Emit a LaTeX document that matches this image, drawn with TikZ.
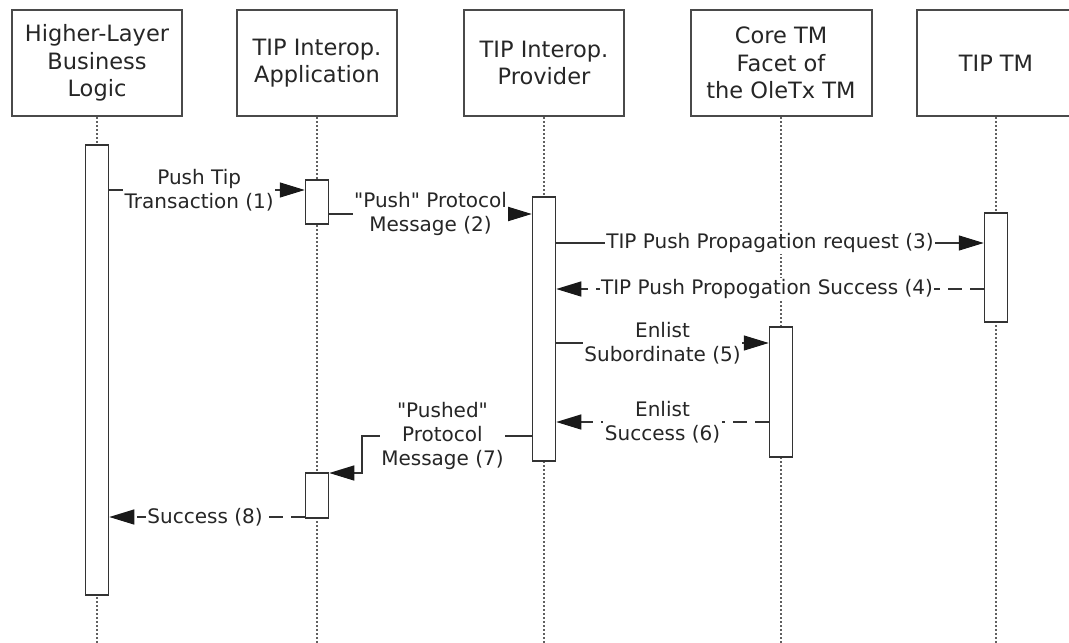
\documentclass[tikz,border=0pt]{standalone}
\usepackage{fontspec}
\setmainfont{DejaVu Sans}
\usetikzlibrary{arrows.meta}
\definecolor{ln}{HTML}{333333}
\definecolor{tx}{HTML}{262626}
\definecolor{bx}{HTML}{4A4A4A}
\definecolor{lf}{HTML}{606060}
\begin{document}
\begin{tikzpicture}[x=1pt,y=-1pt,
  head/.style={draw=bx, line width=2pt, fill=white, minimum height=106pt, inner sep=0pt,
               align=center, text=tx, font=\fontsize{22.5}{27.5}\selectfont},
  life/.style={draw=lf, line width=1.4pt, dash pattern=on 2pt off 2pt},
  act/.style={draw=ln, line width=1.5pt, fill=white, minimum width=23pt, inner sep=0pt},
  msg/.style={draw=ln, line width=1.3pt, -{Triangle[length=25pt,width=15pt,fill=black!90,color=black!90]}},
  ret/.style={msg, dash pattern=on 14pt off 8pt},
  lbl/.style={fill=white, inner sep=1.5pt, text=tx, align=center,
              font=\fontsize{20}{24}\selectfont},
]
\useasboundingbox (0,0) rectangle (1069,643);

% heads
\node[head, minimum width=170pt] (b1) at (97,63)  {Higher-Layer\\Business\\Logic};
\node[head, minimum width=160pt] (b2) at (317,63) {TIP Interop.\\Application};
\node[head, minimum width=160pt] (b3) at (544,63) {TIP Interop.\\Provider};
\node[head, minimum width=181pt] (b4) at (781,63) {Core TM\\Facet of\\the OleTx TM};
\node[head, minimum width=158pt] (b5) at (996,63) {TIP TM};

% lifelines
\foreach \b in {b1,b2,b3,b4,b5}
  \draw[life] (\b.south) -- (\b.south |- 0,643);

% activation bars
\node[act, minimum height=450pt] (a1) at (97,370) {};
\node[act, minimum height=44pt]  (a2) at (317,202) {};
\node[act, minimum height=264pt] (a3) at (544,329) {};
\node[act, minimum height=109pt] (a5) at (996,267.5) {};
\node[act, minimum height=130pt] (a4) at (781,392) {};
\node[act, minimum height=45pt]  (a6) at (317,495.5) {};

% messages
\draw[msg] (a1.east |- 0,190) -- node[lbl,pos=0.46] {Push Tip\\Transaction (1)} (a2.west |- 0,190);
\draw[msg] (a2.east |- 0,214) -- node[lbl,pos=0.5] {\textquotedbl Push\textquotedbl{} Protocol\\Message (2)} (a3.west |- 0,214);
\draw[msg] (a3.east |- 0,243) -- node[lbl,pos=0.5] {TIP Push Propagation request (3)} (a5.west |- 0,243);
\draw[ret] (a5.west |- 0,289) -- node[lbl,pos=0.507] {TIP Push Propogation Success (4)} (a3.east |- 0,289);
\draw[msg] (a3.east |- 0,343) -- node[lbl,pos=0.5] {Enlist\\Subordinate (5)} (a4.west |- 0,343);
\draw[ret] (a4.west |- 0,422) -- node[lbl,pos=0.5] {Enlist\\Success (6)} (a3.east |- 0,422);
\coordinate (k7) at (362,436);
\draw[msg] (a3.west |- 0,436) -- node[lbl,pos=0.526] {\textquotedbl Pushed\textquotedbl\\Protocol\\Message (7)} (k7) |- (a6.east |- 0,473);
\draw[ret] (a6.west |- 0,517) -- node[lbl,pos=0.51] {Success (8)} (a1.east |- 0,517);
\end{tikzpicture}
\end{document}
